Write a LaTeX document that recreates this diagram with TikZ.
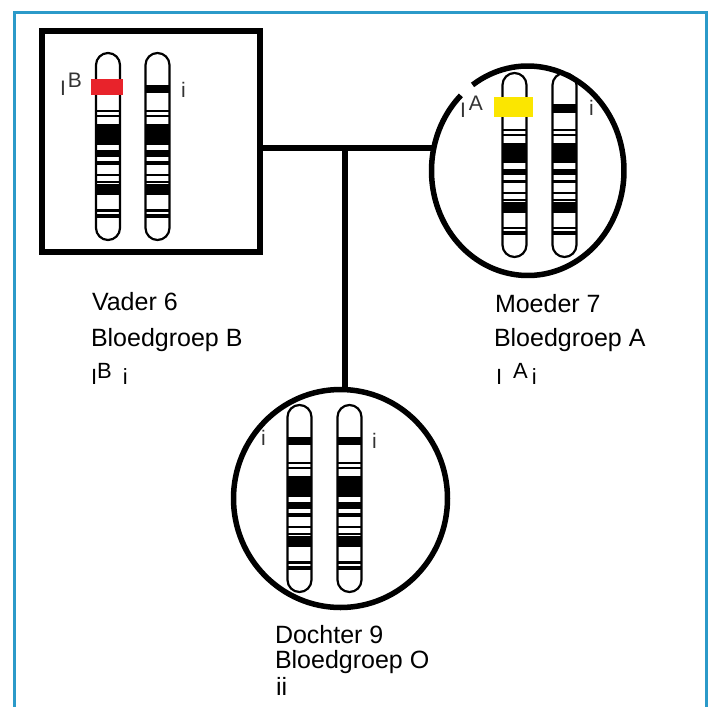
\documentclass[tikz,border=0pt]{standalone}
\usepackage{fontspec}
\setmainfont{Liberation Sans}
\usetikzlibrary{shapes.geometric}

\definecolor{framecol}{HTML}{2B9AC9}
\definecolor{allelered}{HTML}{E8232B}
\definecolor{alleleyellow}{HTML}{FBE600}

% A banded chromosome: #1 = centre x, #2 = top y, #3 = bottom y
\newcommand{\chromosome}[3]{%
  \pgfmathsetmacro\chlen{#3-#2}%
  \foreach \fa/\fb in {0.304/0.316, 0.330/0.343, 0.379/0.491, 0.521/0.554,
                       0.580/0.600, 0.648/0.656, 0.684/0.694, 0.703/0.759,
                       0.836/0.850, 0.860/0.882}{%
    \fill ({#1-12},{#2+\fa*\chlen}) rectangle ({#1+12},{#2+\fb*\chlen});
  }%
  \draw[chromline] ({#1-12},#2) rectangle ({#1+12},#3);
}
% The black band of the i allele on a chromosome
\newcommand{\iband}[3]{%
  \pgfmathsetmacro\chlen{#3-#2}%
  \fill ({#1-12},{#2+0.170*\chlen}) rectangle ({#1+12},{#2+0.215*\chlen});
}

\begin{document}
\begin{tikzpicture}[x=1pt,y=-1pt,
  chromline/.style={line width=2.2pt, rounded corners=12pt},
  person/.style={draw, line width=6pt, inner sep=0pt, outer sep=0pt},
  ring/.style={line width=5.5pt},
  link/.style={line width=6pt},
  lbl/.style={anchor=base west, inner sep=0pt, outer sep=0pt,
              font=\fontsize{25}{25}\selectfont},
  gen/.style={anchor=base west, inner sep=0pt, outer sep=0pt,
              font=\fontsize{22}{22}\selectfont},
  allele/.style={anchor=base west, inner sep=0pt, outer sep=0pt,
                 font=\fontsize{21}{21}\selectfont, text=black!80}]

\useasboundingbox (0,0) rectangle (713,707);

% outer frame, open at the bottom
\draw[framecol, line width=3pt] (14,707) -- (14,12) -- (706.5,12) -- (706.5,707);

% the three family members
\node[person, minimum width=218pt, minimum height=221pt] (father) at (150.5,141) {};
\node[ellipse, minimum width=192.5pt, minimum height=209.5pt,
      inner sep=0pt, outer sep=0pt] (mother) at (527.75,170.75) {};
\draw[ring] (mother.center) ++(-125:96.25 and 104.75)
  arc[start angle=-125, end angle=226, x radius=96.25, y radius=104.75];
\node[ellipse, draw, line width=5.5pt, minimum width=214pt, minimum height=218pt,
      inner sep=0pt, outer sep=0pt] (daughter) at (340.5,498.5) {};

% pedigree lines
\coordinate (junction) at (345,148);
\draw[link] (father.east |- junction) -- (mother.west |- junction);
\draw[link] (junction) -- (daughter.north -| junction);

% father's chromosomes
\chromosome{108}{53}{240}
\chromosome{157.5}{53}{240}
\iband{157.5}{53}{240}
\fill[allelered] (91,79) rectangle (123,95);
\node[allele] (fB) at (60,95) {I\kern2pt\raisebox{8pt}{B}};
\node[allele] (fi) at (181,97) {i};

% mother's chromosomes
\chromosome{514.5}{73}{257}
\chromosome{564.5}{73}{257}
\iband{564.5}{73}{257}
\fill[alleleyellow] (494,97) rectangle (533,117);
\node[allele] (mA) at (460,117) {I\kern3pt\raisebox{7pt}{A}};
\node[allele] (mi) at (589,115) {i};

% daughter's chromosomes
\chromosome{299.5}{405}{592}
\chromosome{349.5}{405}{592}
\iband{299.5}{405}{592}
\iband{349.5}{405}{592}
\node[allele] (di1) at (261,445) {i};
\node[allele] (di2) at (372,448) {i};

% captions
\node[lbl] (v1) at (92,310) {Vader 6};
\node[lbl] (v2) at (91,346) {Bloedgroep B};
\node[gen] (v3) at (91,384) {I\raisebox{6pt}{B}\hspace{11pt}i};

\node[lbl] (m1) at (495,312) {Moeder 7};
\node[lbl] (m2) at (494,346) {Bloedgroep A};
\node[gen] (m3) at (496,384) {I\hspace{11pt}\raisebox{6pt}{A}\hspace{4pt}i};

\node[lbl] (d1) at (275,643) {Dochter 9};
\node[lbl] (d2) at (275,668) {Bloedgroep O};
\node[lbl] (d3) at (276,695) {ii};
\end{tikzpicture}
\end{document}
